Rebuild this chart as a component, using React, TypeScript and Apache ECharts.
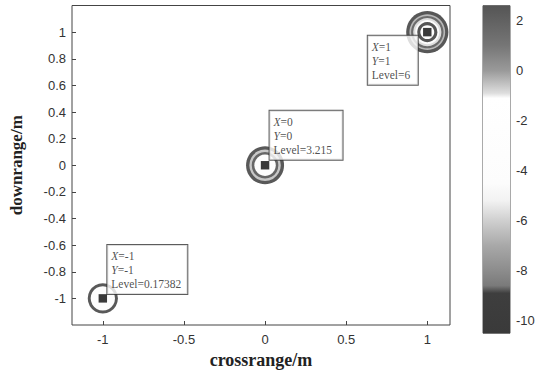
import React, { useEffect, useRef } from "react";
import * as echarts from "echarts";

// Axis ticks
const X_TICKS = [-1, -0.5, 0, 0.5, 1];
const Y_TICKS = [-1, -0.8, -0.6, -0.4, -0.2, 0, 0.2, 0.4, 0.6, 0.8, 1];
const CBAR_TICKS = [-10, -8, -6, -4, -2, 0, 2];
const CBAR_MIN = -10.5;
const CBAR_MAX = 2.6;

// grayscale colormap: [level, color]
const CMAP: [number, string][] = [
  [-10.5, "#3a3a3a"],
  [-8.9, "#3e3e3e"],
  [-8.6, "#7a7a7a"],
  [-8, "#8c8c8c"],
  [-7, "#a8a8a8"],
  [-6, "#cfcfcf"],
  [-5.2, "#f2f2f2"],
  [-4.5, "#fcfcfc"],
  [-1.1, "#ffffff"],
  [-0.9, "#dedede"],
  [0, "#9a9a9a"],
  [1, "#767676"],
  [2.6, "#555555"],
];

// targets
const TARGET_X = [-1, 0, 1];
const TARGET_Y = [-1, 0, 1];
const TARGET_LEVEL = ["0.17382", "3.215", "6"];

// concentric rings per target: [radius (m), level]
const RINGS_BL: [number, number][] = [
  [0.093, 2.4],
  [0.075, -3],
];
const RINGS_C: [number, number][] = [
  [0.117, 2.4],
  [0.097, -0.6],
  [0.082, 1.8],
  [0.066, -3],
];
const RINGS_TR: [number, number][] = [
  [0.13, 2.5],
  [0.11, -0.4],
  [0.1, 1.5],
  [0.087, -0.9],
  [0.074, -3],
  [0.062, 2.6],
  [0.043, -3],
];
const RINGS = [RINGS_BL, RINGS_C, RINGS_TR];
const CORE_HALF = 0.026;
const CORE_LEVEL = -10.5;

// label box layout (pixel offsets from the target point, box widths)
const LABEL_LAYOUT = [
  { position: [5, -53], width: 72 },
  { position: [5, -54], width: 65 },
  { position: [-59, 4], width: 42 },
];

function hexToRgb(h: string) {
  return [parseInt(h.slice(1, 3), 16), parseInt(h.slice(3, 5), 16), parseInt(h.slice(5, 7), 16)];
}
function cmap(v: number) {
  if (v <= CMAP[0][0]) return CMAP[0][1];
  for (let i = 1; i < CMAP.length; i++) {
    if (v <= CMAP[i][0]) {
      const [v0, c0] = CMAP[i - 1];
      const [v1, c1] = CMAP[i];
      const t = (v - v0) / (v1 - v0);
      const a = hexToRgb(c0);
      const b = hexToRgb(c1);
      const c = a.map((x, k) => Math.round(x + (b[k] - x) * t));
      return `rgb(${c[0]},${c[1]},${c[2]})`;
    }
  }
  return CMAP[CMAP.length - 1][1];
}

export default function App() {
  const ref = useRef<HTMLDivElement>(null);
  useEffect(() => {
    document.body.style.margin = "0";
    const chart = echarts.init(ref.current!, null, { renderer: "svg" });

    const ringData: number[][] = [];
    RINGS.forEach((rings, t) => {
      rings.forEach(([r, lv]) => ringData.push([TARGET_X[t], TARGET_Y[t], r, lv, 0]));
      ringData.push([TARGET_X[t], TARGET_Y[t], CORE_HALF, CORE_LEVEL, 1]);
    });

    const stops = CMAP.map(([v, c]) => ({
      offset: (CBAR_MAX - v) / (CBAR_MAX - CBAR_MIN),
      color: c,
    })).sort((a, b) => a.offset - b.offset);

    const labelData = TARGET_X.map((x, i) => ({
      value: [x, TARGET_Y[i]],
      label: {
        position: LABEL_LAYOUT[i].position,
        width: LABEL_LAYOUT[i].width,
        formatter: `{i|X}=${x}\n{i|Y}=${TARGET_Y[i]}\nLevel=${TARGET_LEVEL[i]}`,
      },
    }));

    const axisLabelStyle = {
      color: "#333",
      fontSize: 13,
      fontFamily: "Liberation Sans, Arial, sans-serif",
    };

    chart.setOption({
      animation: false,
      backgroundColor: "#fff",
      grid: [
        {
          left: 72,
          top: 5.5,
          width: 378,
          height: 328.5,
          show: true,
          borderColor: "#444",
          borderWidth: 1,
          backgroundColor: "#fff",
        },
        {
          left: 483,
          top: 5.7,
          width: 27,
          height: 327.5,
          show: true,
          borderColor: "#555",
          borderWidth: 1,
        },
      ],
      xAxis: [
        {
          type: "value",
          gridIndex: 0,
          min: -1.19,
          max: 1.14,
          axisLine: { show: false, onZero: false },
          splitLine: { show: false },
          axisTick: { show: true, inside: true, length: 4, customValues: X_TICKS, lineStyle: { color: "#444" } },
          axisLabel: { ...axisLabelStyle, customValues: X_TICKS, margin: 8, formatter: (v: number) => String(v) },
          name: "crossrange/m",
          nameLocation: "middle",
          nameGap: 26,
          nameTextStyle: {
            fontFamily: "Liberation Serif, Times New Roman, serif",
            fontWeight: "bold",
            fontSize: 18,
            color: "#222",
          },
        },
        { type: "value", gridIndex: 1, min: 0, max: 1, show: false },
      ],
      yAxis: [
        {
          type: "value",
          gridIndex: 0,
          min: -1.2,
          max: 1.2,
          axisLine: { show: false, onZero: false },
          splitLine: { show: false },
          axisTick: { show: true, inside: true, length: 4, customValues: Y_TICKS, lineStyle: { color: "#444" } },
          axisLabel: { ...axisLabelStyle, customValues: Y_TICKS, margin: 6, formatter: (v: number) => String(Math.round(v * 10) / 10) },
          name: "downrange/m",
          nameLocation: "middle",
          nameGap: 47,
          nameTextStyle: {
            fontFamily: "Liberation Serif, Times New Roman, serif",
            fontWeight: "bold",
            fontSize: 17,
            color: "#222",
          },
        },
        {
          type: "value",
          gridIndex: 1,
          position: "right",
          min: CBAR_MIN,
          max: CBAR_MAX,
          axisLine: { show: false, onZero: false },
          splitLine: { show: false },
          axisTick: { show: true, inside: true, length: 3, customValues: CBAR_TICKS, lineStyle: { color: "#555" } },
          axisLabel: { ...axisLabelStyle, customValues: CBAR_TICKS, margin: 6 },
        },
      ],
      series: [
        {
          type: "custom",
          xAxisIndex: 0,
          yAxisIndex: 0,
          data: ringData,
          z: 2,
          renderItem: (params: any, api: any) => {
            const c = api.coord([api.value(0), api.value(1)]);
            const r = api.size([api.value(2), 0])[0];
            const fill = cmap(api.value(3));
            if (api.value(4) === 1) {
              return {
                type: "rect",
                shape: { x: c[0] - r, y: c[1] - r, width: 2 * r, height: 2 * r },
                style: { fill },
              };
            }
            return { type: "circle", shape: { cx: c[0], cy: c[1], r }, style: { fill } };
          },
        },
        {
          type: "scatter",
          xAxisIndex: 0,
          yAxisIndex: 0,
          symbolSize: 1,
          itemStyle: { color: "rgba(0,0,0,0)" },
          z: 5,
          data: labelData,
          label: {
            show: true,
            align: "left",
            verticalAlign: "top",
            backgroundColor: "#fff",
            borderColor: "#333",
            borderWidth: 1,
            padding: [4, 4, 3, 4],
            fontFamily: "Liberation Serif, Times New Roman, serif",
            fontSize: 11.5,
            lineHeight: 14,
            color: "#222",
            rich: {
              i: {
                fontFamily: "Liberation Serif, Times New Roman, serif",
                fontStyle: "italic",
                fontSize: 11.5,
                lineHeight: 14,
                color: "#222",
              },
            },
          },
        },
        {
          type: "custom",
          xAxisIndex: 1,
          yAxisIndex: 1,
          data: [[0, CBAR_MIN, CBAR_MAX]],
          renderItem: (params: any, api: any) => {
            const top = api.coord([0, api.value(2)]);
            const bot = api.coord([1, api.value(1)]);
            return {
              type: "rect",
              shape: { x: top[0], y: top[1], width: bot[0] - top[0], height: bot[1] - top[1] },
              style: { fill: new echarts.graphic.LinearGradient(0, 0, 0, 1, stops) },
            };
          },
        },
      ],
    });
    return () => chart.dispose();
  }, []);
  return <div ref={ref} style={{ width: 538, height: 374 }} />;
}
